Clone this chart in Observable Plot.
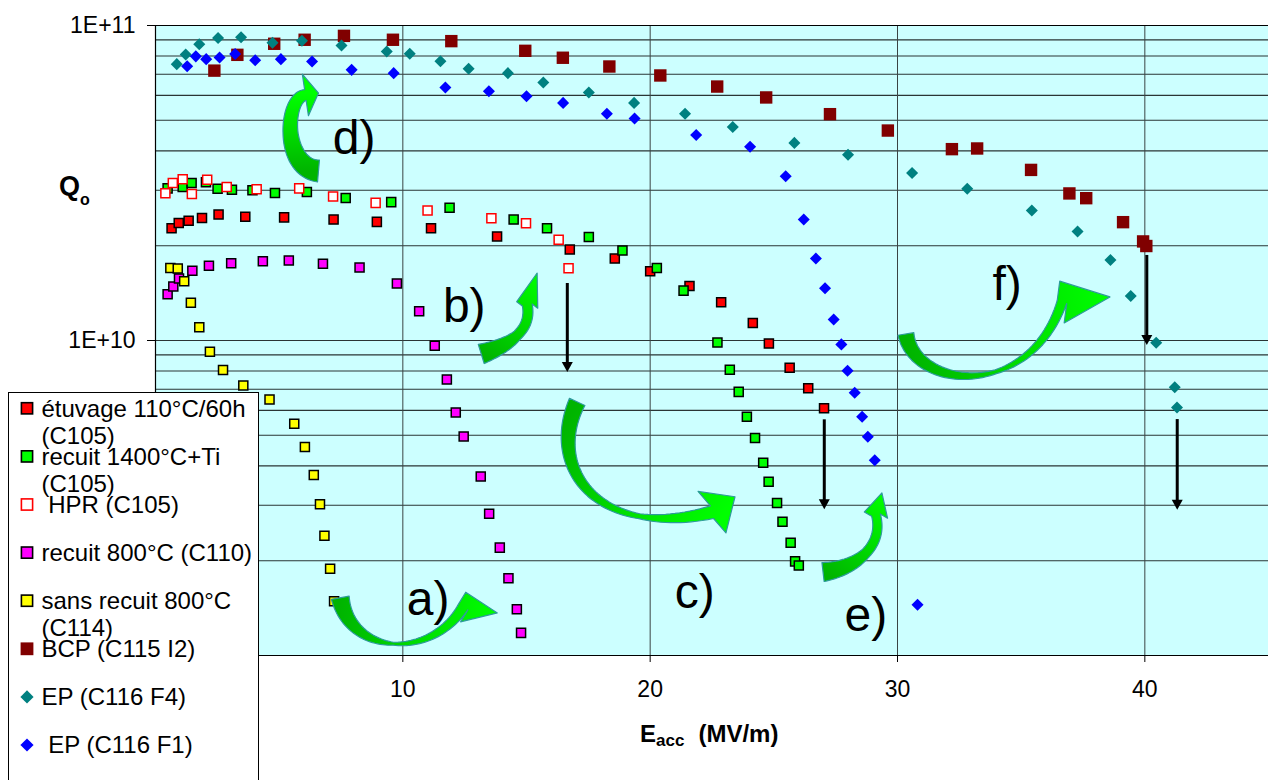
<!DOCTYPE html>
<html>
<head>
<meta charset="utf-8">
<script src="https://cdn.jsdelivr.net/npm/d3@7"></script>
<script src="https://cdn.jsdelivr.net/npm/@observablehq/plot@0.6"></script>
<style>
  html, body { margin: 0; padding: 0; background: #fff; }
  #chart { position: relative; width: 1268px; height: 780px; overflow: hidden;
           font-family: Arial, "Liberation Sans", sans-serif; }
  #legend { position: absolute; left: 8px; top: 392px; }
</style>
</head>
<body>
<div id="chart"></div>
<script>
// Accelerating field Eacc (MV/m) and quality factor Q0 for each cavity treatment
const etuvageE = [0.65, 0.94, 1.34, 1.88, 2.55, 3.63, 5.20, 7.20, 8.95, 11.14, 13.81, 16.75, 18.57, 20.0, 21.59, 22.87, 24.15, 24.80, 25.64, 26.39, 27.03];
const etuvageQ = [2.27e10, 2.36e10, 2.40e10, 2.45e10, 2.51e10, 2.47e10, 2.46e10, 2.42e10, 2.38e10, 2.27e10, 2.14e10, 1.945e10, 1.82e10, 1.66e10, 1.49e10, 1.323e10, 1.137e10, 9.78e9, 8.2e9, 7.05e9, 6.09e9];

const recuit1400E = [0.49, 1.10, 1.46, 2.04, 2.51, 3.09, 3.92, 4.83, 6.12, 7.69, 9.53, 11.89, 14.48, 15.83, 17.52, 18.88, 20.27, 21.35, 22.72, 23.22, 23.58, 23.91, 24.24, 24.57, 24.79, 25.13, 25.35, 25.68, 25.86, 26.01];
const recuit1400Q = [3.04e10, 3.07e10, 3.16e10, 3.18e10, 3.03e10, 3.01e10, 3.00e10, 2.94e10, 2.96e10, 2.835e10, 2.75e10, 2.64e10, 2.42e10, 2.27e10, 2.13e10, 1.93e10, 1.70e10, 1.44e10, 9.85e9, 8.07e9, 6.87e9, 5.73e9, 4.90e9, 4.09e9, 3.56e9, 3.05e9, 2.66e9, 2.28e9, 1.99e9, 1.93e9];

const hprE = [0.40, 0.70, 1.10, 1.47, 2.09, 2.88, 4.09, 5.81, 7.18, 8.90, 11.0, 13.58, 14.98, 16.30, 16.70];
const hprQ = [2.935e10, 3.16e10, 3.25e10, 2.92e10, 3.24e10, 3.07e10, 3.02e10, 3.04e10, 2.865e10, 2.735e10, 2.585e10, 2.445e10, 2.357e10, 2.09e10, 1.696e10];

const recuit800E = [0.49, 0.72, 0.95, 1.49, 2.16, 3.06, 4.34, 5.39, 6.77, 8.25, 9.76, 10.66, 11.29, 11.78, 12.14, 12.46, 13.15, 13.49, 13.92, 14.27, 14.61, 14.78];
const recuit800Q = [1.403e10, 1.484e10, 1.573e10, 1.665e10, 1.726e10, 1.76e10, 1.785e10, 1.795e10, 1.752e10, 1.705e10, 1.517e10, 1.239e10, 9.62e9, 7.52e9, 5.91e9, 4.96e9, 3.70e9, 2.82e9, 2.20e9, 1.76e9, 1.403e9, 1.18e9];

const sansRecuitE = [0.60, 0.90, 1.16, 1.43, 1.77, 2.20, 2.73, 3.55, 4.61, 5.61, 6.04, 6.40, 6.65, 6.83, 7.06, 7.22];
const sansRecuitQ = [1.70e10, 1.693e10, 1.543e10, 1.317e10, 1.102e10, 9.21e9, 8.06e9, 7.20e9, 6.50e9, 5.44e9, 4.59e9, 3.74e9, 3.02e9, 2.40e9, 1.885e9, 1.487e9];

const bcpE = [2.38, 3.31, 4.80, 6.03, 7.62, 9.60, 11.96, 14.95, 16.47, 18.35, 20.41, 22.71, 24.69, 27.27, 29.61, 32.20, 33.22, 35.40, 36.95, 37.63, 39.12, 39.93, 40.06];
const bcpQ = [7.19e10, 8.07e10, 8.75e10, 9.01e10, 9.27e10, 9.01e10, 8.92e10, 8.31e10, 7.90e10, 7.41e10, 6.94e10, 6.40e10, 5.91e10, 5.23e10, 4.64e10, 4.05e10, 4.07e10, 3.48e10, 2.93e10, 2.83e10, 2.375e10, 2.063e10, 1.995e10];

const epF4E = [0.86, 1.22, 1.77, 2.53, 3.46, 4.73, 5.92, 7.52, 9.35, 10.28, 11.52, 12.66, 14.25, 15.68, 17.52, 19.35, 21.41, 23.34, 25.83, 28.0, 30.59, 32.82, 35.43, 37.28, 38.61, 39.43, 40.46, 41.21, 41.30];
const epF4Q = [7.54e10, 8.09e10, 8.72e10, 9.13e10, 9.17e10, 8.81e10, 8.95e10, 8.64e10, 8.27e10, 8.13e10, 7.70e10, 7.29e10, 7.06e10, 6.59e10, 6.13e10, 5.68e10, 5.25e10, 4.76e10, 4.24e10, 3.89e10, 3.40e10, 3.03e10, 2.585e10, 2.22e10, 1.80e10, 1.384e10, 9.83e9, 7.10e9, 6.13e9];

const epF1E = [1.28, 1.63, 2.05, 2.59, 3.22, 4.03, 5.07, 6.33, 7.93, 9.63, 11.72, 13.48, 15.0, 16.48, 18.25, 19.37, 21.86, 24.04, 25.48, 26.21, 26.70, 27.07, 27.42, 27.73, 27.98, 28.27, 28.57, 28.80, 29.08, 30.81];
const epF1Q = [7.42e10, 7.98e10, 7.82e10, 7.91e10, 8.12e10, 7.76e10, 7.82e10, 7.69e10, 7.23e10, 7.06e10, 6.36e10, 6.18e10, 5.96e10, 5.68e10, 5.25e10, 5.07e10, 4.49e10, 4.12e10, 3.32e10, 2.42e10, 1.82e10, 1.464e10, 1.166e10, 9.72e9, 8.01e9, 6.82e9, 5.73e9, 4.95e9, 4.17e9, 1.45e9];

// Legend labels (one entry per line)
const seriesLabels = [
  ["étuvage 110°C/60h", "(C105)"],
  ["recuit 1400°C+Ti", "(C105)"],
  [" HPR (C105)"],
  ["recuit 800°C (C110)"],
  ["sans recuit 800°C", "(C114)"],
  ["BCP (C115 I2)"],
  ["EP (C116 F4)"],
  [" EP (C116 F1)"]
];

// Axis ticks (the 0 / 1E+09 corner sits under the legend box)
const xTicks = [10, 20, 30, 40];
const yTicks = [1e10, 1e11];
const yTickLabels = ["1E+10", "1E+11"];

// Annotation letters: left edge / baseline in data units
const letterText = ["a)", "b)", "c)", "d)", "e)", "f)"];
const letterE = [10.16, 11.62, 20.99, 7.17, 27.86, 33.84];
const letterQ = [1.34e9, 1.143e10, 1.42e9, 3.895e10, 1.20e9, 1.34e10];

// Curved green arrows: tail, two bezier controls, head base, tip (E, Q)
const curvedTail = [[7.49, 1.52e9], [13.19, 9.03e9], [17.07, 6.36e9], [6.61, 3.44e10], [27.01, 1.834e9], [30.36, 1.045e10]];
const curvedC1   = [[7.90, 1.0e9], [14.36, 9.64e9], [15.78, 3.87e9], [5.15, 3.52e10], [28.42, 1.889e9], [30.73, 6.94e9]];
const curvedC2   = [[11.13, 9.64e8], [15.25, 1.076e10], [18.00, 2.32e9], [5.23, 5.87e10], [29.47, 2.235e9], [35.37, 6.45e9]];
const curvedHead = [[12.46, 1.42e9], [15.05, 1.292e10], [22.52, 2.84e9], [6.08, 5.995e10], [29.15, 2.78e9], [36.67, 1.32e10]];
const curvedTip  = [[13.84, 1.36e9], [15.45, 1.632e10], [23.45, 3.18e9], [6.61, 6.08e10], [29.39, 3.27e9], [38.61, 1.37e10]];

// Straight black arrows marking the drop of Q0
const dropE = [16.67, 27.06, 40.10, 41.33];
const dropQFrom = [1.517e10, 5.60e9, 1.862e10, 5.61e9];
const dropQTo = [7.91e9, 2.90e9, 9.64e9, 2.89e9];

// ---- styles ----
const seriesStyle = [
  {E: etuvageE, Q: etuvageQ, shape: "square", fill: "#ff0000", stroke: "#000", r: 5.1},
  {E: recuit1400E, Q: recuit1400Q, shape: "square", fill: "#00ff00", stroke: "#000", r: 5.1},
  {E: hprE, Q: hprQ, shape: "square", fill: "#ffffff", stroke: "#ff0000", r: 5.1},
  {E: recuit800E, Q: recuit800Q, shape: "square", fill: "#ff00ff", stroke: "#000", r: 5.1},
  {E: sansRecuitE, Q: sansRecuitQ, shape: "square", fill: "#ffff00", stroke: "#000", r: 5.1},
  {E: bcpE, Q: bcpQ, shape: "square", fill: "#800000", stroke: null, r: 7.0},
  {E: epF4E, Q: epF4Q, shape: "diamond", fill: "#008080", stroke: null, r: 4.8},
  {E: epF1E, Q: epF1Q, shape: "diamond", fill: "#0000ff", stroke: null, r: 4.8}
];
// widths (px): tail, middle, position of middle, end of body, half head width
const curvedWidth = [
  {w0: 18, wm: 3, tm: 0.5, w1: 11, hw: 15},
  {w0: 20, wm: 10, tm: 0.5, w1: 10, hw: 11},
  {w0: 17, wm: 5, tm: 0.75, w1: 13, hw: 25},
  {w0: 22, wm: 15, tm: 0.5, w1: 11, hw: 21},
  {w0: 19, wm: 10, tm: 0.5, w1: 9, hw: 12},
  {w0: 16, wm: 4, tm: 0.6, w1: 10, hw: 21}
];

const gridQ = d3.range(9, 11).flatMap(k => d3.range(1, 10).map(m => m * 10 ** k));

function curvedArrowsMark(index, scales) {
  const g = d3.create("svg:g");
  const defs = g.append("defs");
  const P = ([e, q]) => [scales.x(e), scales.y(q)];
  curvedTail.forEach((_, i) => {
    const s = P(curvedTail[i]), c1 = P(curvedC1[i]), c2 = P(curvedC2[i]), h = P(curvedHead[i]), tip = P(curvedTip[i]);
    const st = curvedWidth[i];
    const n = 60, left = [], right = [];
    let nEnd = [0, 0];
    for (let k = 0; k <= n; k++) {
      const t = k / n, u = 1 - t;
      const bx = u*u*u*s[0] + 3*u*u*t*c1[0] + 3*u*t*t*c2[0] + t*t*t*h[0];
      const by = u*u*u*s[1] + 3*u*u*t*c1[1] + 3*u*t*t*c2[1] + t*t*t*h[1];
      const dx = 3*u*u*(c1[0]-s[0]) + 6*u*t*(c2[0]-c1[0]) + 3*t*t*(h[0]-c2[0]);
      const dy = 3*u*u*(c1[1]-s[1]) + 6*u*t*(c2[1]-c1[1]) + 3*t*t*(h[1]-c2[1]);
      const len = Math.hypot(dx, dy) || 1;
      const nx = -dy / len, ny = dx / len;
      const w = (t < st.tm
        ? st.w0 + (st.wm - st.w0) * t / st.tm
        : st.wm + (st.w1 - st.wm) * (t - st.tm) / (1 - st.tm)) / 2;
      left.push([bx + nx * w, by + ny * w]);
      right.push([bx - nx * w, by - ny * w]);
      if (k === n) nEnd = [nx, ny];
    }
    const hx = tip[0] - h[0], hy = tip[1] - h[1], hl = Math.hypot(hx, hy) || 1;
    let px = -hy / hl, py = hx / hl;
    if (px * nEnd[0] + py * nEnd[1] < 0) { px = -px; py = -py; }
    const wingL = [h[0] + px * st.hw, h[1] + py * st.hw];
    const wingR = [h[0] - px * st.hw, h[1] - py * st.hw];
    const pts = [...left, wingL, tip, wingR, ...right.reverse()];
    const id = "greenArrowFill" + i;
    const grad = defs.append("linearGradient").attr("id", id)
      .attr("gradientUnits", "userSpaceOnUse")
      .attr("x1", s[0]).attr("y1", s[1]).attr("x2", tip[0]).attr("y2", tip[1]);
    grad.append("stop").attr("offset", 0).attr("stop-color", "#00b400");
    grad.append("stop").attr("offset", 0.5).attr("stop-color", "#00dc00");
    grad.append("stop").attr("offset", 1).attr("stop-color", "#00ff00");
    g.append("path")
      .attr("d", "M" + pts.map(p => p[0].toFixed(2) + "," + p[1].toFixed(2)).join("L") + "Z")
      .attr("fill", `url(#${id})`)
      .attr("stroke", "#2e9b9b")
      .attr("stroke-width", 1.2)
      .attr("stroke-linejoin", "round");
  });
  return g.node();
}

function dropArrowsMark(index, scales) {
  const g = d3.create("svg:g");
  const headLen = 10, headHalf = 5.5;
  dropE.forEach((e, i) => {
    const x = scales.x(e), y1 = scales.y(dropQFrom[i]), y2 = scales.y(dropQTo[i]);
    g.append("line").attr("x1", x).attr("x2", x).attr("y1", y1).attr("y2", y2 - headLen + 1)
      .attr("stroke", "#000").attr("stroke-width", 3);
    g.append("path")
      .attr("d", `M${x - headHalf},${y2 - headLen}L${x + headHalf},${y2 - headLen}L${x},${y2}Z`)
      .attr("fill", "#000");
  });
  return g.node();
}

function axisTitlesMark() {
  const g = d3.create("svg:g")
    .attr("font-weight", "bold").attr("fill", "#000").attr("text-anchor", "start");
  const q = g.append("text").attr("x", 59).attr("y", 195).attr("font-size", 27);
  q.append("tspan").text("Q");
  q.append("tspan").attr("font-size", 16).attr("dy", 10).text("o");
  const e = g.append("text").attr("x", 640).attr("y", 741.5).attr("font-size", 24);
  e.append("tspan").text("E");
  e.append("tspan").attr("font-size", 17).attr("dy", 4).text("acc");
  e.append("tspan").attr("dy", -4).attr("dx", 14).text("(MV/m)");
  return g.node();
}

const dotMarks = seriesStyle.map(s => Plot.dot(d3.zip(s.E, s.Q), {
  x: d => d[0], y: d => d[1],
  symbol: "square",
  rotate: s.shape === "diamond" ? 45 : 0,
  r: s.r,
  fill: s.fill,
  stroke: s.stroke ?? "none",
  strokeWidth: 1.5
}));

const letters = letterText.map((t, i) => ({t, e: letterE[i], q: letterQ[i]}));

const plot = Plot.plot({
  width: 1268,
  height: 780,
  marginLeft: 155,
  marginRight: 0,
  marginTop: 25,
  marginBottom: 125,
  x: {domain: [0, 45]},
  y: {type: "log", domain: [1e9, 1e11]},
  style: {
    fontFamily: 'Arial, "Liberation Sans", sans-serif',
    fontSize: "24px",
    background: "white",
    color: "black",
    overflow: "visible"
  },
  marks: [
    Plot.frame({fill: "#ccffff", stroke: "none"}),
    Plot.ruleY(gridQ, {stroke: "#2a3535", strokeWidth: 1.1}),
    Plot.ruleX([10, 20, 30, 40], {stroke: "#3a4444", strokeWidth: 1}),
    Plot.ruleX([0], {stroke: "#000", strokeWidth: 1.2}),
    Plot.ruleY([1e9, 1e11], {stroke: "#000", strokeWidth: 1.2}),
    ...dotMarks,
    curvedArrowsMark,
    dropArrowsMark,
    Plot.text(letters, {
      x: "e", y: "q", text: "t",
      fontSize: 48, textAnchor: "start", lineAnchor: "bottom", fill: "#000"
    }),
    Plot.axisX({ticks: xTicks, tickSize: 7, tickPadding: 18, label: null, fontSize: 23}),
    Plot.axisY({
      ticks: yTicks, tickSize: 8, tickPadding: 12, label: null, fontSize: 23,
      tickFormat: d => yTickLabels[yTicks.indexOf(d)]
    }),
    axisTitlesMark
  ]
});

const chart = document.getElementById("chart");
chart.appendChild(plot);

// ---- legend box ----
const legendW = 251, legendH = 400;
const legend = d3.select(chart).append("svg")
  .attr("id", "legend")
  .attr("width", legendW).attr("height", legendH)
  .style("font-family", 'Arial, "Liberation Sans", sans-serif');
legend.append("rect").attr("x", 0.5).attr("y", 0.5)
  .attr("width", legendW - 1).attr("height", legendH - 1)
  .attr("fill", "#fff").attr("stroke", "#000").attr("stroke-width", 1);

seriesLabels.forEach((lines, i) => {
  const s = seriesStyle[i];
  const cy = 16.3 + i * 48.1, cx = 19;
  if (s.shape === "diamond") {
    const d = 6.6;
    legend.append("path")
      .attr("d", `M${cx},${cy - d}L${cx + d},${cy}L${cx},${cy + d}L${cx - d},${cy}Z`)
      .attr("fill", s.fill);
  } else if (s.stroke) {
    legend.append("rect").attr("x", cx - 5.6).attr("y", cy - 5.6)
      .attr("width", 11.2).attr("height", 11.2)
      .attr("fill", s.fill).attr("stroke", s.stroke).attr("stroke-width", 1.6);
  } else {
    legend.append("rect").attr("x", cx - 6.4).attr("y", cy - 6.4)
      .attr("width", 12.8).attr("height", 12.8).attr("fill", s.fill);
  }
  const text = legend.append("text")
    .attr("x", 33.5).attr("y", cy + 8.2)
    .attr("font-size", 24).attr("fill", "#000")
    .attr("xml:space", "preserve").style("white-space", "pre");
  lines.forEach((line, k) => {
    text.append("tspan").attr("x", 33.5).attr("dy", k === 0 ? 0 : 27).text(line);
  });
});
</script>
</body>
</html>
